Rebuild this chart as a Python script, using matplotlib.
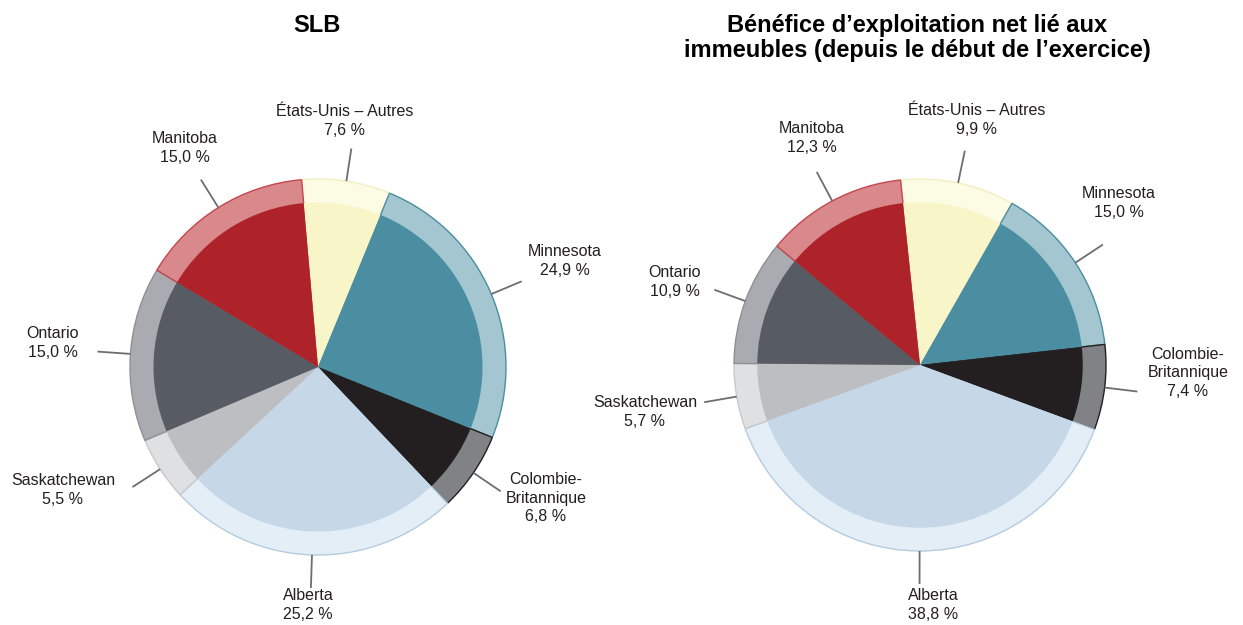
import numpy as np
import matplotlib.pyplot as plt

plt.rcParams['font.family'] = ['Liberation Sans', 'DejaVu Sans']

# categories, clockwise from the top
regions = ['États-Unis – Autres', 'Minnesota', 'Colombie-\nBritannique', 'Alberta',
           'Saskatchewan', 'Ontario', 'Manitoba']
slb_pct = [7.6, 24.9, 6.8, 25.2, 5.5, 15.0, 15.0]
noi_pct = [9.9, 15.0, 7.4, 38.8, 5.7, 10.9, 12.3]

titles = ['SLB', 'Bénéfice d’exploitation net lié aux\nimmeubles (depuis le début de l’exercice)']

inner_cols = ['#F8F5C9', '#4B8EA1', '#231F20', '#C6D8E7', '#BDBEC1', '#575B63', '#AE2329']
ring_cols = ['#FCFBE4', '#A3C6D0', '#818285', '#E3EEF6', '#DFE0E2', '#A9ABB0', '#D9888C']
edge_cols = ['#F3EFC0', '#4B8EA1', '#231F20', '#B5CCE0', '#C8C9CB', '#8E9096', '#C4474D']

# layout (pixel coords, y from top)
H = 625
centers = [(318, 367), (920, 365)]
radii = [188, 186]
starts = [95, 96]
label_xy = [
    [(345, 121), (565, 261), (546, 498), (308, 605), (63, 490), (53, 343), (185, 148)],
    [(977, 120), (1119, 203), (1188, 373), (933, 605), (645, 412), (675, 282), (812, 138)],
]
title_xy = [(317, 25), (917, 38)]

fig = plt.figure(figsize=(12.43, 6.25), dpi=100)
ax = fig.add_axes([0, 0, 1, 1])

for k, vals in enumerate([slb_pct, noi_pct]):
    cx, cy = centers[k]
    c = (cx, H - cy)
    R = radii[k]
    wedges, _ = ax.pie(vals, colors=ring_cols, startangle=starts[k], counterclock=False,
                       center=c, radius=R, frame=True,
                       wedgeprops=dict(linewidth=1.0))
    for w, ec in zip(wedges, edge_cols):
        w.set_edgecolor(ec)
    ax.pie(vals, colors=inner_cols, startangle=starts[k], counterclock=False,
           center=c, radius=R * 0.875, frame=True,
           wedgeprops=dict(linewidth=0))

    for i, w in enumerate(wedges):
        mid = np.deg2rad((w.theta1 + w.theta2) / 2)
        x0 = c[0] + R * np.cos(mid)
        y0 = c[1] + R * np.sin(mid)
        x1 = c[0] + (R + 33) * np.cos(mid)
        y1 = c[1] + (R + 33) * np.sin(mid)
        ax.plot([x0, x1], [y0, y1], color='#6D6E71', lw=1.3, solid_capstyle='butt')
        name = regions[i]
        pct = f'{vals[i]:.1f}'.replace('.', ',') + ' %'
        tx, ty = label_xy[k][i]
        ax.text(tx, H - ty, name + '\n' + pct, ha='center', va='center',
                fontsize=11.5, color='#231F20', linespacing=1.3)

    ax.text(title_xy[k][0], H - title_xy[k][1], titles[k], ha='center', va='center',
            fontsize=17, fontweight='bold', color='#000000', linespacing=1.1)

ax.set_xlim(0, 1243)
ax.set_ylim(0, H)
ax.set_aspect('equal')
ax.axis('off')

plt.savefig('out.png', dpi=100, facecolor='white')
